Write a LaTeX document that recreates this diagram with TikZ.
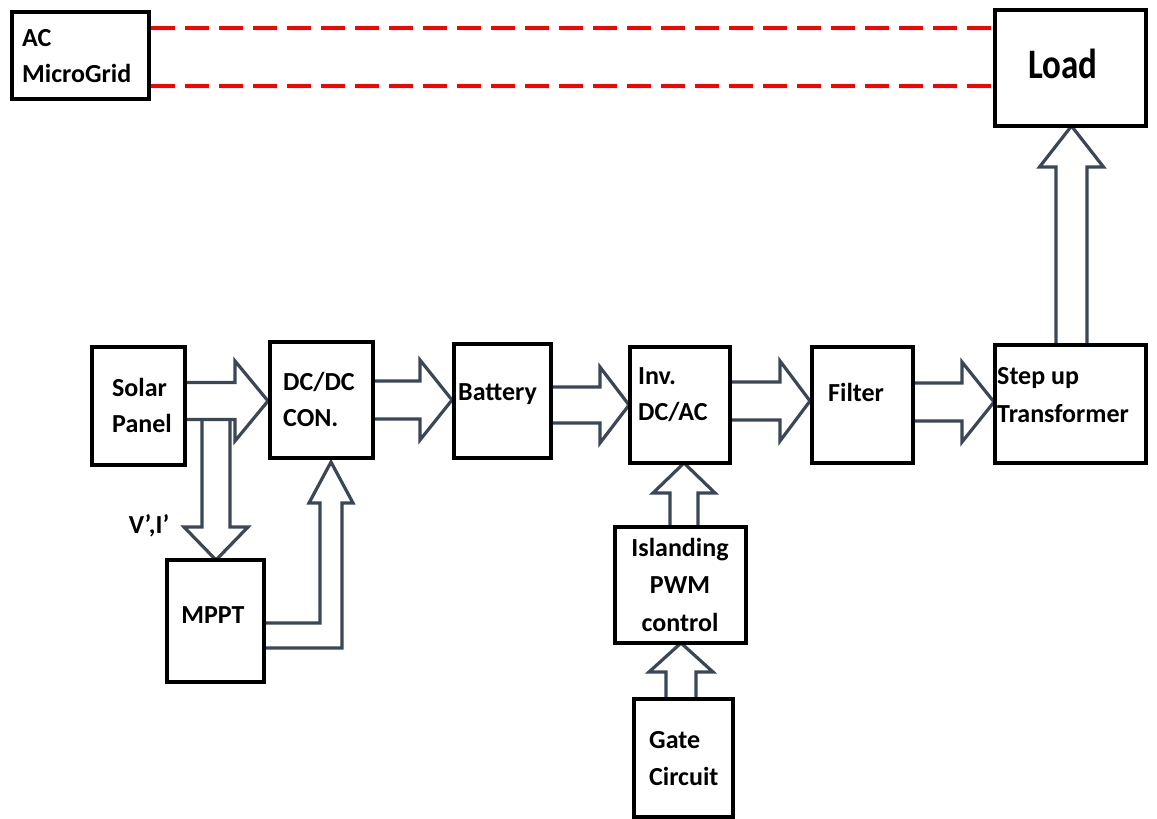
\documentclass[tikz,border=0pt]{standalone}
\usepackage{fontspec}
\setmainfont{Carlito}
\definecolor{arrowc}{RGB}{59,70,86}
\tikzset{
 box/.style={draw=black, line width=3.8pt, fill=white, inner sep=0pt},
 fat/.style={draw=arrowc, line width=3.2pt, fill=white, line join=miter},
 lbl/.style={font=\bfseries\fontsize{26}{36}\selectfont, inner sep=0pt, text=black},
 gridline/.style={draw=red, line width=3.4pt, dash pattern=on 24pt off 10pt}
}
\newcommand\harrow[6]{\draw[fat] (#1,{#4-#5}) -- (#2,{#4-#5}) -- (#2,{#4-#6}) -- (#3,#4) -- (#2,{#4+#6}) -- (#2,{#4+#5}) -- (#1,{#4+#5});}
\newcommand\varrow[6]{\draw[fat] ({#1-#5},#2) -- ({#1-#5},#3) -- ({#1-#6},#3) -- (#1,#4) -- ({#1+#6},#3) -- ({#1+#5},#3) -- ({#1+#5},#2);}
\begin{document}
\begin{tikzpicture}[x=1pt,y=-1pt]
\useasboundingbox (0,0) rectangle (1157,819);
% red dashed lines
\draw[gridline] (151,28) -- (995,28);
\draw[gridline] (151,86) -- (995,86);
% fat arrows
\varrow{216}{420}{527}{560}{14}{32}
\harrow{185}{235}{268}{401}{18.5}{40}
\harrow{373}{420}{452}{400}{19}{40}
\harrow{551}{600}{629}{405}{18}{38}
\harrow{730}{780}{810}{401}{19}{40}
\harrow{913}{962}{994}{402}{19}{40}
\varrow{1071.5}{345}{167}{126}{15.5}{32}
\varrow{684}{527}{493}{463}{14}{31}
\varrow{681}{699}{672}{643}{15}{32}
\draw[fat] (264,623) -- (320,623) -- (320,503) -- (309,503) -- (331,462) -- (353,503) -- (342,503) -- (342,648) -- (264,648);
% boxes
\node[box, minimum width=137pt, minimum height=87pt] (acmg) at (80.5,55.5) {};
\node[box, minimum width=151pt, minimum height=116pt] (load) at (1070.5,68) {};
\node[box, minimum width=93pt, minimum height=118pt] (solar) at (138.5,406) {};
\node[box, minimum width=103pt, minimum height=116pt] (dcdc) at (321.5,400) {};
\node[box, minimum width=97pt, minimum height=114pt] (battery) at (502.5,401) {};
\node[box, minimum width=100pt, minimum height=116pt] (inv) at (680,405) {};
\node[box, minimum width=101pt, minimum height=116pt] (filter) at (862.5,405) {};
\node[box, minimum width=151pt, minimum height=118pt] (trans) at (1070.5,404) {};
\node[box, minimum width=97pt, minimum height=122pt] (mppt) at (215.5,621) {};
\node[box, minimum width=131pt, minimum height=116pt] (isl) at (680.5,585) {};
\node[box, minimum width=99pt, minimum height=118pt] (gate) at (683.5,758) {};
% labels
\node[lbl, anchor=west, align=left] at (22,56.5) {AC\\MicroGrid};
\node[lbl, font=\bfseries\fontsize{35}{40}\selectfont] at (1063,64) {\scalebox{1}[1.2]{Load}};
\node[lbl, anchor=west, align=left] at (112,405) {Solar\\Panel};
\node[lbl, anchor=west, align=left] at (283,399.5) {DC/DC\\CON.};
\node[lbl, anchor=west] at (458,394.5) {Battery};
\node[lbl, anchor=west, align=left] at (638,394.5) {Inv.\\DC/AC};
\node[lbl, anchor=west] at (828,392.5) {Filter};
\node[lbl, align=center, font=\bfseries\fontsize{26}{37.5}\selectfont] at (680,584.5) {Islanding\\PWM\\control};
\node[lbl, anchor=west, align=left, font=\bfseries\fontsize{26}{37}\selectfont] at (649,758.5) {Gate\\Circuit};
\node[lbl] at (213,615.5) {MPPT};
\node[lbl] at (149,525.5) {V’,I’};
\node[lbl, anchor=west, align=left, font=\bfseries\fontsize{26}{38}\selectfont] at (997,395) {Step up\\Transformer};
\end{tikzpicture}
\end{document}
